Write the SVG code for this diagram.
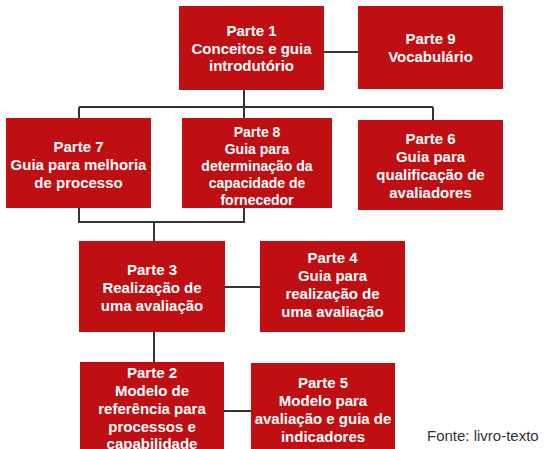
<svg xmlns="http://www.w3.org/2000/svg" width="547" height="449" viewBox="0 0 547 449">
<style>
.box{fill:#C00F12}
.t{font-family:"Liberation Sans",Arial,sans-serif;font-weight:bold;font-size:15px;fill:#fff;text-anchor:middle}
.s{font-size:14px}
.c{stroke:#333;stroke-width:2;fill:none}
.src{font-family:"Liberation Sans",Arial,sans-serif;font-size:15px;fill:#333}
</style>
<rect width="547" height="449" fill="#fff"/>
<g id="connectors">
<path class="c" d="M324 52H358"/>
<path class="c" d="M244 90V107M79 107H433M79 107V118M244 107V118M433 107V120"/>
<path class="c" d="M79 208V222H244V208M154 222V241"/>
<path class="c" d="M225 287H260"/>
<path class="c" d="M154 332V362"/>
<path class="c" d="M224 411H251"/>
</g>
<g id="parte1"><rect class="box" x="179" y="6" width="145" height="84"/>
<text class="t" x="251.5" y="36">Parte 1</text><text class="t" x="251.5" y="53.5">Conceitos e guia</text><text class="t" x="251.5" y="71">introdutório</text></g>
<g id="parte9"><rect class="box" x="358" y="6" width="145" height="83"/>
<text class="t" x="430.5" y="44">Parte 9</text><text class="t" x="430.5" y="62">Vocabulário</text></g>
<g id="parte7"><rect class="box" x="6" y="118" width="145" height="90"/>
<text class="t" x="78.5" y="152">Parte 7</text><text class="t" x="78.5" y="170">Guia para melhoria</text><text class="t" x="78.5" y="188">de processo</text></g>
<g id="parte8"><rect class="box" x="182" y="118" width="150" height="90"/>
<text class="t s" x="257" y="137">Parte 8</text><text class="t s" x="257" y="154">Guia para</text><text class="t s" x="257" y="171">determinação da</text><text class="t s" x="257" y="188">capacidade de</text><text class="t s" x="257" y="205">fornecedor</text></g>
<g id="parte6"><rect class="box" x="358" y="120" width="145" height="90"/>
<text class="t" x="430.5" y="144">Parte 6</text><text class="t" x="430.5" y="162">Guia para</text><text class="t" x="430.5" y="180">qualificação de</text><text class="t" x="430.5" y="198">avaliadores</text></g>
<g id="parte3"><rect class="box" x="79" y="241" width="146" height="91"/>
<text class="t" x="152" y="275">Parte 3</text><text class="t" x="152" y="293">Realização de</text><text class="t" x="152" y="311">uma avaliação</text></g>
<g id="parte4"><rect class="box" x="260" y="241" width="145" height="91"/>
<text class="t" x="332.5" y="263">Parte 4</text><text class="t" x="332.5" y="281">Guia para</text><text class="t" x="332.5" y="299">realização de</text><text class="t" x="332.5" y="317">uma avaliação</text></g>
<g id="parte2"><rect class="box" x="80" y="362" width="144" height="90"/>
<text class="t" x="152" y="378">Parte 2</text><text class="t" x="152" y="396">Modelo de</text><text class="t" x="152" y="414">referência para</text><text class="t" x="152" y="432">processos e</text><text class="t" x="152" y="449">capabilidade</text></g>
<g id="parte5"><rect class="box" x="251" y="363" width="144" height="90"/>
<text class="t" x="323" y="388">Parte 5</text><text class="t" x="323" y="406">Modelo para</text><text class="t" x="323" y="424">avaliação e guia de</text><text class="t" x="323" y="442">indicadores</text></g>
<text class="src" x="427" y="441">Fonte: livro-texto</text>
</svg>
